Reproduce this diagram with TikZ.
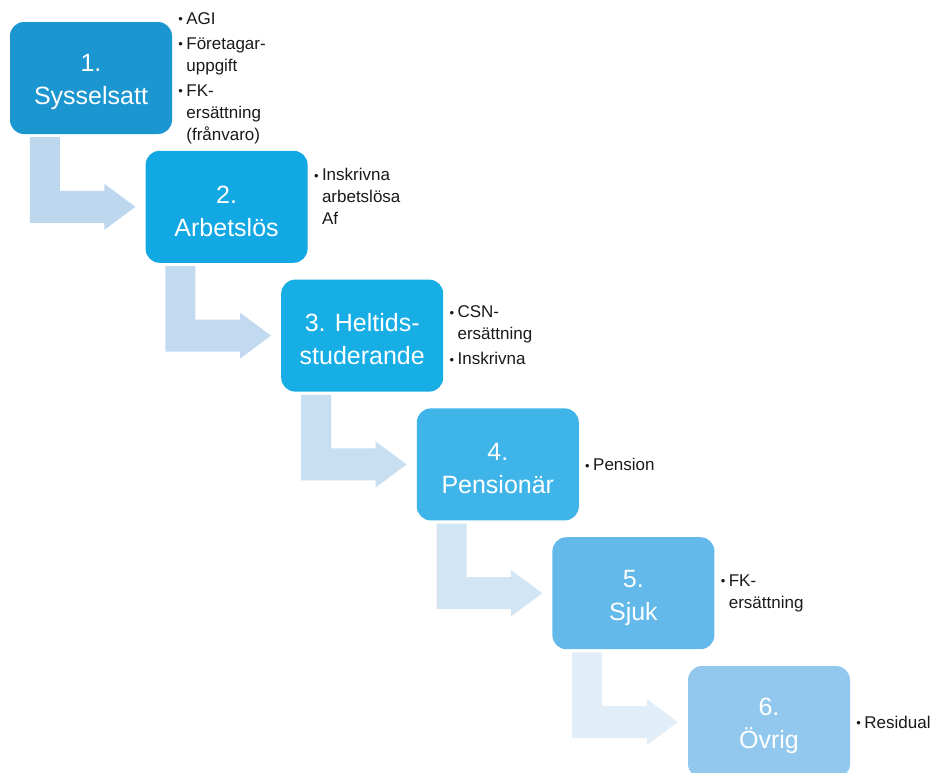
\documentclass[tikz,border=0pt]{standalone}
\usepackage{fontspec}
\setmainfont{Liberation Sans}
\usetikzlibrary{calc}
\definecolor{bA}{HTML}{1B96D0}
\definecolor{bB}{HTML}{12A8E3}
\definecolor{bC}{HTML}{17AEE6}
\definecolor{bD}{HTML}{3FB4E8}
\definecolor{bE}{HTML}{62B9EA}
\definecolor{bF}{HTML}{92C8EE}
\definecolor{aA}{HTML}{BDD7EE}
\definecolor{aB}{HTML}{C2DAEF}
\definecolor{aC}{HTML}{C8DEF1}
\definecolor{aD}{HTML}{D2E5F4}
\definecolor{aE}{HTML}{E1EDF7}
\definecolor{txt}{HTML}{1A1A1A}
\newcommand{\bul}{\makebox[8pt][l]{\raisebox{0.3pt}{\fontsize{13}{13}\selectfont •}}}
\newcommand{\ind}{\hspace*{8pt}}
\newcommand{\lift}{\rule{0pt}{26pt}}
\newcommand{\bentarrow}[3]{%
  \fill[#3] ($(#1.south west)+(20,3)$) -- ($(#1.south west)+(50,3)$)
    |- ($(#2.west)+(-41,-16)$) -- ($(#2.west)+(-41,-23)$) -- ($(#2.west)+(-10,0)$)
    -- ($(#2.west)+(-41,23)$) -- ($(#2.west)+(-41,16)$)
    -| ($(#1.south west)+(20,3)$) -- cycle;}
\begin{document}
\begin{tikzpicture}[x=1pt,y=-1pt,
  stagebox/.style={rectangle, rounded corners=14pt, minimum width=162pt, minimum height=112pt,
    inner sep=0pt, align=center, text=white, font=\fontsize{25}{33}\selectfont},
  srclist/.style={anchor=west, inner sep=0pt, align=left, text=txt, font=\fontsize{17}{22}\selectfont}]
\useasboundingbox (0,0) rectangle (937,772);
\clip (0,0) rectangle (937,772);
\fill[white] (0,0) rectangle (937,772);
\node[stagebox, fill=bA] (b1) at (91,78) {\lift 1.\\Sysselsatt};
\node[stagebox, fill=bB] (b2) at (226.6,206.8) {\lift 2.\\Arbetslös};
\node[stagebox, fill=bC] (b3) at (362.2,335.6) {\lift 3. Heltids-\\studerande};
\node[stagebox, fill=bD] (b4) at (497.8,464.4) {\lift 4.\\Pensionär};
\node[stagebox, fill=bE] (b5) at (633.4,593.2) {\lift 5.\\Sjuk};
\node[stagebox, fill=bF] (b6) at (769,722) {\lift 6.\\Övrig};
\bentarrow{b1}{b2}{aA}
\bentarrow{b2}{b3}{aB}
\bentarrow{b3}{b4}{aC}
\bentarrow{b4}{b5}{aD}
\bentarrow{b5}{b6}{aE}
\node[srclist] (l1) at ($(b1.east)+(6,0)$) {\bul AGI\\[3pt]\bul Företagar-\\\ind uppgift\\[3pt]\bul FK-\\\ind ersättning\\\ind (frånvaro)};
\node[srclist] (l2) at ($(b2.east)+(6,-10)$) {\bul Inskrivna\\\ind arbetslösa\\\ind Af};
\node[srclist] (l3) at ($(b3.east)+(6,0)$) {\bul CSN-\\\ind ersättning\\[3pt]\bul Inskrivna};
\node[srclist] (l4) at ($(b4.east)+(6,0)$) {\bul Pension};
\node[srclist] (l5) at ($(b5.east)+(6,0)$) {\bul FK-\\\ind ersättning};
\node[srclist] (l6) at ($(b6.east)+(6,0)$) {\bul Residual};
\end{tikzpicture}
\end{document}
